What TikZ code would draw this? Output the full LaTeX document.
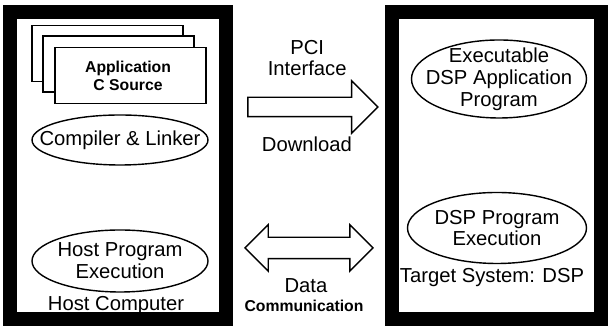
\documentclass[tikz,border=0pt]{standalone}
\usepackage{fontspec}
\setmainfont{Liberation Sans}
\usetikzlibrary{%
  shapes,%
  shapes.geometric,% wg. ellipse
  shapes.arrows,%
  positioning%
}

\begin{document}
\begin{tikzpicture}
[font=\fontsize{14.4}{15.5}\selectfont, draw=black, line width=1pt,
frame/.style={rectangle, draw, line width=0.35cm, inner sep=0pt, minimum height=7.675cm},
page/.style={rectangle, draw, fill=white, inner sep=0pt, minimum width=3.775cm, minimum height=1.40cm},
txt/.style={inner sep=0pt, align=center},
oval/.style={ellipse, draw, inner sep=0pt, label={[txt]center:#1}},
fatarrow/.style={single arrow, draw, inner xsep=0pt, inner ysep=0.225cm, single arrow head indent=0pt,
  single arrow head extend=0.4125cm, minimum height=3.25cm},
fatdarrow/.style={double arrow, draw, inner xsep=0pt, inner ysep=0.25cm, double arrow head indent=0pt,
  double arrow head extend=0.3125cm, minimum height=3.20cm}]

\useasboundingbox (0,0) rectangle (15.20,8.15);

% host side
\node[frame, minimum width=5.400cm] (host) at (2.95,4.0125) {};
\node[page] (page0) at (2.69,6.81) {};
\node[page] (page1) at (2.96,6.55) {};
\node[page] (page2) at (3.26,6.26) {};
\node[txt, font=\fontsize{11.2}{12.5}\selectfont\bfseries] (csource) at (3.20,6.26) {Application\\C Source};
\node[oval={Compiler \& Linker}, minimum width=4.40cm, minimum height=1.25cm] (compiler) at (3.00,4.65) {};
\node[oval={Host Program\\Execution}, minimum width=4.40cm, minimum height=1.55cm] (hostexec) at (3.00,1.625) {};
\node[txt] (hostname) at (2.90,0.50) {Host Computer};

% target side
\node[frame, minimum width=5.225cm] (target) at (12.4125,4.0125) {};
\node[oval={Executable\\DSP Application\\Program}, minimum width=4.375cm, minimum height=1.95cm] (dspapp) at (12.475,6.175) {};
\node[oval={DSP Program\\Execution}, minimum width=4.475cm, minimum height=1.775cm] (dspexec) at (12.425,2.45) {};
\node[txt] (targetname) at (12.30,1.20) {Target System: DSP};

% link
\node[txt, font=\fontsize{14.4}{14.5}\selectfont] (pci) at (7.68,6.70) {PCI\\Interface};
\node[fatarrow] (download) at (7.70,5.475) {};
\node[txt] (dltext) at (7.675,4.55) {Download};
\node[fatdarrow] (datacomm) at (7.725,1.95) {};
\node[txt] (data) at (7.65,1.00) {Data};
\node[txt, font=\fontsize{11.2}{12.5}\selectfont\bfseries] (comm) at (7.60,0.50) {Communication};
\end{tikzpicture}
\end{document}
